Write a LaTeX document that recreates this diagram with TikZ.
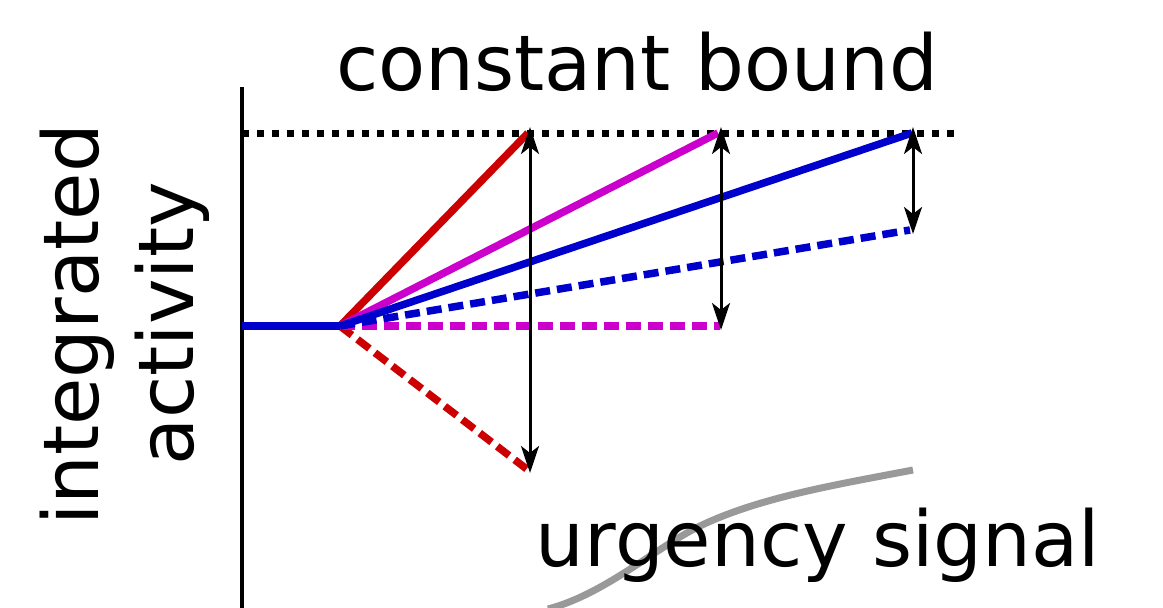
\documentclass[tikz,border=0pt]{standalone}
\usepackage{fontspec}
\setmainfont{DejaVu Sans}
\usetikzlibrary{arrows.meta}
\definecolor{cred}{HTML}{CC0000}
\definecolor{cmag}{HTML}{CC00CC}
\definecolor{cblue}{HTML}{0000CC}
\definecolor{cgray}{HTML}{999999}
\begin{document}
\begin{tikzpicture}[x=1pt,y=-1pt,
  traj/.style={line width=7.5pt},
  dashtraj/.style={line width=7.5pt, dash pattern=on 15pt off 7pt},
  gap/.style={line width=3pt, {Stealth[length=27pt,width=18pt,inset=7pt]}-{Stealth[length=27pt,width=18pt,inset=7pt]}},
  lbl/.style={inner sep=0pt, font=\fontsize{77}{96}\selectfont}]
\useasboundingbox (0,0) rectangle (1163,608);
% coordinates
\coordinate (axtop) at (242,87);
\coordinate (axbot) at (242,608);
\coordinate (bl) at (242,133);
\coordinate (br) at (960,133);
\coordinate (s0) at (242,326);
\coordinate (s) at (340,326);
\coordinate (redtop) at (528,133);
\coordinate (magtop) at (718,133);
\coordinate (bluetop) at (912,133);
\coordinate (reddash) at (528,470);
\coordinate (magdash) at (720,326);
\coordinate (bluedash) at (910,230);
\coordinate (a1t) at (530,127);
\coordinate (a1b) at (530,473);
\coordinate (a2t) at (721,127);
\coordinate (a2b) at (721,330);
\coordinate (a3t) at (913,127);
\coordinate (a3b) at (913,234);
\coordinate (u0) at (548,609);
\coordinate (u1) at (700,526);
\coordinate (u2) at (913,470);
% axis
\draw[line width=3.5pt] (axtop) -- (axbot);
% bound
\draw[line width=7pt, dash pattern=on 7pt off 8pt] (bl) -- (br);
% urgency curve
\draw[cgray, line width=7pt] (u0) .. controls (605,594) and (655,548) .. (u1)
  .. controls (760,497) and (840,484) .. (u2);
% trajectories
\draw[traj, cred] (s) -- (redtop);
\draw[dashtraj, cred] (s) -- (reddash);
\draw[traj, cmag] (s) -- (magtop);
\draw[dashtraj, cmag] (s) -- (magdash);
\draw[traj, cblue] (s) -- (bluetop);
\draw[dashtraj, cblue] (s) -- (bluedash);
\draw[traj, cblue] (s0) -- (s);
% arrows
\draw[gap] (a1t) -- (a1b);
\draw[gap] (a2t) -- (a2b);
\draw[gap] (a3t) -- (a3b);
% labels
\node[lbl, anchor=base] (tbound) at (637,90) {constant bound};
\node[lbl, anchor=base] (turg) at (818,566) {urgency signal};
\node[lbl, anchor=base, rotate=90] (tint) at (98,325) {integrated};
\node[lbl, anchor=base, rotate=90] (tact) at (193,324) {activity};
\end{tikzpicture}
\end{document}
